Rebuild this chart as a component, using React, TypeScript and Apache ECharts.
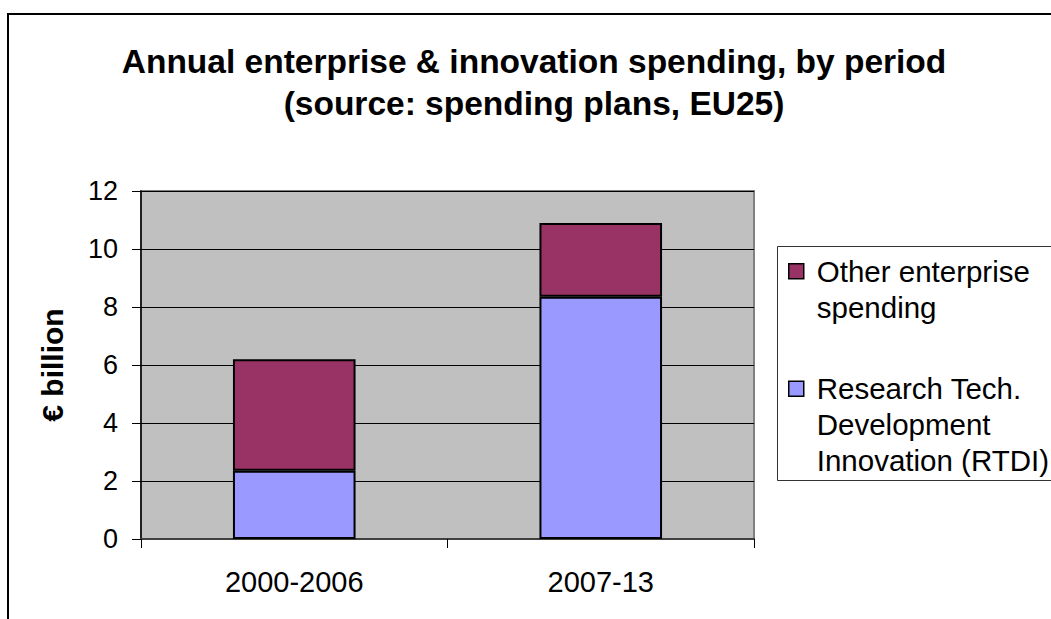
import React, { useEffect, useRef } from "react";
import * as echarts from "echarts";

const categories = ["2000-2006", "2007-13"];
const rtdiValues = [2.35, 8.35];
const otherValues = [3.85, 2.55];
const yTicks = { min: 0, max: 12, interval: 2 };
const seriesNames = {
  other: "Other enterprise spending",
  rtdi: "Research Tech. Development Innovation (RTDI)",
};
// leading blank lines keep the first text line level with the legend swatch
const legendLabels: Record<string, string> = {
  [seriesNames.other]: "\nOther enterprise\nspending",
  [seriesNames.rtdi]: "\n\nResearch Tech.\nDevelopment\nInnovation (RTDI)",
};
const titleText = "Annual enterprise & innovation spending, by period\n(source: spending plans, EU25)";
const yAxisTitle = "€ billion";

const FONT = "Arial, 'Liberation Sans', sans-serif";

export default function App() {
  const ref = useRef<HTMLDivElement>(null);
  useEffect(() => {
    if (!ref.current) return;
    const chart = echarts.init(ref.current, undefined, { renderer: "svg" });
    const LH = 36;
    const legendText = {
      fontFamily: FONT,
      fontSize: 29.5,
      color: "#000",
      lineHeight: LH,
      padding: [0, 0, 0, 8],
    };
    const legendBase = {
      orient: "vertical",
      left: 788,
      padding: 0,
      itemWidth: 15,
      itemHeight: 15,
      icon: "rect",
      selectedMode: false,
      formatter: (n: string) => legendLabels[n] ?? n,
      itemStyle: { borderColor: "#000", borderWidth: 1.5 },
      textStyle: legendText,
      z: 5,
    };
    chart.setOption({
      animation: false,
      backgroundColor: "#fff",
      title: {
        text: titleText,
        left: 534,
        top: 40,
        padding: 0,
        textAlign: "center",
        textStyle: {
          fontFamily: FONT,
          fontSize: 33.5,
          fontWeight: "bold",
          lineHeight: 42,
          color: "#000",
        },
      },
      graphic: [
        {
          type: "rect",
          z: 0,
          silent: true,
          shape: { x: 8, y: 14, width: 1200, height: 800 },
          style: { fill: "none", stroke: "#000", lineWidth: 2 },
        },
        {
          type: "rect",
          z: 1,
          silent: true,
          shape: { x: 777.5, y: 246.5, width: 400, height: 234 },
          style: { fill: "#fff", stroke: "#333", lineWidth: 1 },
        },
      ],
      legend: [
        { ...legendBase, data: [seriesNames.other], top: 271.3 - (3 * LH) / 2 },
        { ...legendBase, data: [seriesNames.rtdi], top: 388.7 - (5 * LH) / 2 },
      ],
      grid: {
        left: 141,
        right: 297,
        top: 191,
        bottom: 80,
        show: true,
        backgroundColor: "#C0C0C0",
        borderColor: "#808080",
        borderWidth: 2,
      },
      xAxis: {
        type: "category",
        data: categories,
        axisLine: { lineStyle: { color: "#404040", width: 2 } },
        axisTick: { show: true, length: 9, lineStyle: { color: "#000", width: 1 } },
        axisLabel: { fontFamily: FONT, fontSize: 29, color: "#000", margin: 28 },
      },
      yAxis: {
        type: "value",
        min: yTicks.min,
        max: yTicks.max,
        interval: yTicks.interval,
        name: yAxisTitle,
        nameLocation: "middle",
        nameGap: 74,
        nameTextStyle: { fontFamily: FONT, fontSize: 30, fontWeight: "bold", color: "#000" },
        axisLine: { show: true, lineStyle: { color: "#000", width: 1.5 } },
        axisTick: { show: true, length: 9, lineStyle: { color: "#000", width: 1 } },
        axisLabel: { fontFamily: FONT, fontSize: 27, color: "#000", margin: 23 },
        splitLine: { lineStyle: { color: "#000", width: 1 } },
      },
      series: [
        {
          name: seriesNames.rtdi,
          type: "bar",
          stack: "total",
          data: rtdiValues,
          barWidth: "40%",
          itemStyle: { color: "#9999FF", borderColor: "#000", borderWidth: 2 },
        },
        {
          name: seriesNames.other,
          type: "bar",
          stack: "total",
          data: otherValues,
          barWidth: "40%",
          itemStyle: { color: "#993366", borderColor: "#000", borderWidth: 2 },
        },
      ],
    });
    return () => chart.dispose();
  }, []);
  return (
    <div
      ref={ref}
      style={{ position: "fixed", left: 0, top: 0, width: 1051, height: 619 }}
    />
  );
}
